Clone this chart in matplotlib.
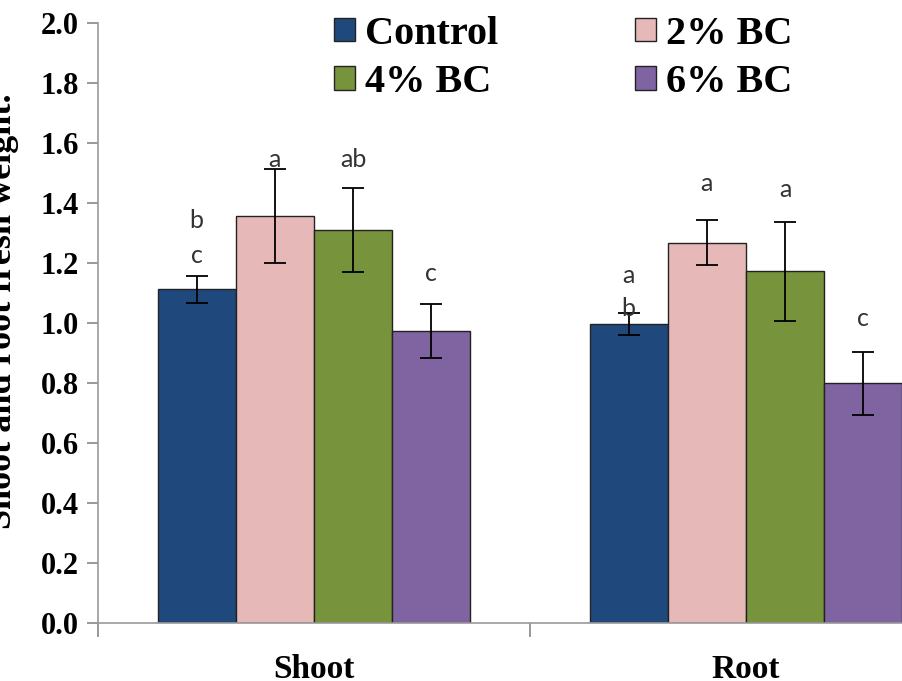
import numpy as np
import matplotlib
matplotlib.use('Agg')
import matplotlib.pyplot as plt

# Data
groups = ['Shoot', 'Root']
treatments = ['Control', '2% BC', '4% BC', '6% BC']
colors = ['#1F497D', '#E6B9B8', '#77933C', '#8064A2']

means = {
    'Control': [1.113, 0.997],
    '2% BC': [1.357, 1.267],
    '4% BC': [1.310, 1.172],
    '6% BC': [0.975, 0.800],
}
errors = {
    'Control': [0.045, 0.037],
    '2% BC': [0.157, 0.075],
    '4% BC': [0.140, 0.165],
    '6% BC': [0.090, 0.105],
}
# significance letters (text, baseline height) per group
letters = {
    'Control': [[('b', 1.317), ('c', 1.200)], [('a', 1.133), ('b', 1.023)]],
    '2% BC': [[('a', 1.520)], [('a', 1.441)]],
    '4% BC': [[('ab', 1.520)], [('a', 1.421)]],
    '6% BC': [[('c', 1.140)], [('c', 0.991)]],
}

serif = 'Liberation Serif'

fig = plt.figure(figsize=(9.03, 6.81), dpi=100)
ax = fig.add_axes([98 / 903, 58 / 681, 864 / 903, 600 / 681])

x = np.arange(len(groups))
width = 0.181
offsets = (np.arange(len(treatments)) - 1.5) * width

bars = {}
for i, t in enumerate(treatments):
    pos = x + offsets[i]
    bars[t] = ax.bar(pos, means[t], width=width, color=colors[i], edgecolor='#222222',
                     linewidth=1.0, label=t, zorder=2)
    ax.errorbar(pos, means[t], yerr=errors[t], fmt='none', ecolor='black',
                elinewidth=1.3, capsize=8, capthick=1.3, zorder=3)
    for g, labs in enumerate(letters[t]):
        for txt, yy in labs:
            ax.text(pos[g], yy, txt, ha='center', va='baseline', fontsize=18,
                    family='Lato', color='#333333', zorder=4)

ax.set_xlim(-0.5, 1.5)
ax.set_ylim(0, 2.0)
ax.set_yticks(np.arange(0, 2.01, 0.2))
ax.set_yticklabels([f'{v:.1f}' for v in np.arange(0, 2.01, 0.2)],
                   fontsize=22, fontweight='bold', family=serif)
ax.set_xticks(x)
ax.set_xticklabels(groups, fontsize=24, fontweight='bold', family=serif)
ax.tick_params(axis='x', length=0, pad=22)
ax.set_xticks([-0.5, 0.5, 1.5], minor=True)
ax.tick_params(axis='x', which='minor', length=10, color='#888888', width=1.2)
ax.tick_params(axis='y', length=8, color='#888888', width=1.2, pad=6)

for s in ['top', 'right']:
    ax.spines[s].set_visible(False)
for s in ['left', 'bottom']:
    ax.spines[s].set_color('#999999')
    ax.spines[s].set_linewidth(1.2)

fig.text(0.003, 0.543, 'Shoot and root fresh weight.', rotation=90,
         ha='center', va='center', fontsize=26, fontweight='bold', family=serif)

# row-wise legend order: Control, 2% BC / 4% BC, 6% BC
order = ['Control', '4% BC', '2% BC', '6% BC']
leg = ax.legend([bars[t] for t in order], order,
                loc='upper left', bbox_to_anchor=(330 / 903, 1 - 12 / 681),
                bbox_transform=fig.transFigure, ncol=2, frameon=False,
                prop={'family': serif, 'weight': 'bold', 'size': 29},
                handlelength=0.52, handleheight=0.52, handletextpad=0.25,
                columnspacing=3.4, labelspacing=0.28, borderpad=0.1,
                borderaxespad=0)

fig.savefig('out.png', dpi=100)
